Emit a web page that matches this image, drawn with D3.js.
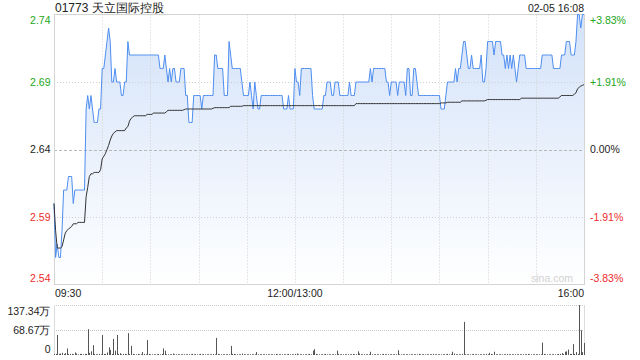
<!DOCTYPE html>
<html><head><meta charset="utf-8">
<script src="https://cdn.jsdelivr.net/npm/d3@7/dist/d3.min.js"></script>
<style>html,body{margin:0;padding:0;background:#fff;}svg{display:block;font-family:"Liberation Sans",Arial,sans-serif;}</style>
</head><body>
<script>
const title = "01773 天立国际控股";
const dateLabel = "02-05 16:08";
const priceTicks = [2.74, 2.69, 2.64, 2.59, 2.54];
const pctLabels = ["+3.83%", "+1.91%", "0.00%", "-1.91%", "-3.83%"];
const timeTickIdx = [0, 150, 330];
const timeLabels = ["09:30", "12:00/13:00", "16:00"];
const volTicks = [137.34, 68.67, 0];
const volLabels = ["137.34万", "68.67万", "0"];

// per-minute price (09:30..12:00, 13:00..16:00), 331 points
const price = [
2.60,2.56,2.57,2.56,2.56,2.58,2.61,2.61,2.61,2.62,
2.62,2.62,2.60,2.61,2.61,2.61,2.61,2.61,2.61,2.61,
2.67,2.68,2.67,2.68,2.67,2.66,2.66,2.66,2.67,2.67,
2.70,2.70,2.71,2.72,2.73,2.72,2.69,2.69,2.70,2.69,
2.69,2.69,2.68,2.68,2.69,2.69,2.72,2.71,2.71,2.71,
2.71,2.71,2.71,2.71,2.71,2.71,2.71,2.71,2.71,2.71,
2.71,2.71,2.71,2.71,2.71,2.71,2.70,2.70,2.70,2.71,
2.70,2.69,2.70,2.69,2.70,2.70,2.69,2.69,2.69,2.70,
2.70,2.70,2.68,2.68,2.66,2.66,2.66,2.68,2.68,2.68,
2.68,2.68,2.67,2.68,2.68,2.68,2.68,2.68,2.68,2.68,
2.71,2.71,2.70,2.70,2.70,2.70,2.68,2.68,2.68,2.72,
2.71,2.70,2.70,2.70,2.70,2.70,2.70,2.69,2.68,2.68,
2.68,2.68,2.69,2.68,2.67,2.69,2.68,2.67,2.67,2.68,
2.68,2.68,2.68,2.68,2.68,2.68,2.68,2.68,2.68,2.68,
2.68,2.68,2.68,2.67,2.67,2.67,2.68,2.67,2.67,2.67,
2.70,2.69,2.69,2.68,2.70,2.70,2.70,2.70,2.70,2.70,
2.70,2.68,2.67,2.67,2.67,2.67,2.67,2.67,2.68,2.68,
2.69,2.69,2.69,2.68,2.68,2.69,2.69,2.69,2.68,2.68,
2.68,2.68,2.68,2.68,2.69,2.68,2.68,2.68,2.69,2.69,
2.69,2.69,2.69,2.69,2.69,2.69,2.69,2.70,2.69,2.70,
2.70,2.70,2.70,2.70,2.70,2.70,2.70,2.69,2.69,2.68,
2.69,2.69,2.69,2.69,2.68,2.69,2.69,2.69,2.69,2.68,
2.70,2.70,2.68,2.68,2.70,2.70,2.69,2.68,2.68,2.68,
2.68,2.68,2.68,2.68,2.68,2.68,2.68,2.68,2.68,2.68,
2.68,2.67,2.67,2.67,2.68,2.69,2.69,2.69,2.69,2.69,
2.70,2.69,2.70,2.70,2.71,2.72,2.72,2.71,2.70,2.70,
2.71,2.70,2.70,2.70,2.70,2.70,2.71,2.69,2.69,2.70,
2.72,2.72,2.72,2.72,2.71,2.72,2.72,2.72,2.72,2.71,
2.71,2.70,2.71,2.70,2.71,2.70,2.71,2.70,2.69,2.70,
2.71,2.71,2.71,2.71,2.70,2.70,2.70,2.70,2.70,2.70,
2.70,2.70,2.70,2.70,2.71,2.71,2.71,2.71,2.71,2.71,
2.71,2.70,2.70,2.70,2.70,2.70,2.71,2.71,2.71,2.72,
2.72,2.72,2.71,2.71,2.71,2.72,2.74,2.74,2.73,2.74,
2.74];

// per-minute average price
const avgPrice = [
2.600,2.580,2.567,2.567,2.567,2.568,2.573,2.578,2.580,2.581,
2.582,2.583,2.585,2.585,2.585,2.586,2.586,2.586,2.586,2.586,
2.605,2.612,2.620,2.622,2.622,2.623,2.623,2.623,2.623,2.625,
2.633,2.635,2.637,2.640,2.643,2.647,2.650,2.652,2.653,2.654,
2.654,2.654,2.654,2.654,2.654,2.656,2.657,2.661,2.663,2.664,
2.665,2.665,2.665,2.665,2.665,2.665,2.665,2.665,2.666,2.666,
2.666,2.666,2.667,2.667,2.667,2.667,2.667,2.667,2.667,2.667,
2.668,2.669,2.669,2.669,2.669,2.669,2.669,2.669,2.669,2.669,
2.669,2.6695,2.670,2.670,2.670,2.670,2.670,2.670,2.670,2.670,
2.670,2.670,2.670,2.670,2.670,2.670,2.670,2.670,2.670,2.6705,
2.671,2.671,2.671,2.671,2.671,2.671,2.671,2.671,2.671,2.671,
2.672,2.672,2.672,2.672,2.672,2.672,2.672,2.672,2.6725,2.6725,
2.6725,2.6725,2.6725,2.6725,2.6725,2.6725,2.6725,2.6725,2.6725,2.6725,
2.6725,2.6725,2.6725,2.6725,2.6725,2.6725,2.6725,2.6725,2.6725,2.6725,
2.6725,2.6725,2.6725,2.6725,2.6725,2.6725,2.6725,2.6725,2.6725,2.6725,
2.6725,2.6725,2.6725,2.6725,2.6725,2.6725,2.6725,2.6725,2.6725,2.6725,
2.6725,2.6725,2.6725,2.6725,2.6725,2.6725,2.6725,2.6725,2.6725,2.6725,
2.6725,2.6725,2.6725,2.6725,2.6725,2.6725,2.6725,2.6725,2.6725,2.6725,
2.6725,2.6725,2.6725,2.6725,2.6725,2.6725,2.6725,2.6725,2.674,2.674,
2.674,2.674,2.674,2.674,2.674,2.674,2.674,2.674,2.674,2.674,
2.674,2.674,2.674,2.674,2.674,2.674,2.674,2.674,2.674,2.674,
2.674,2.674,2.674,2.674,2.674,2.674,2.674,2.674,2.674,2.674,
2.674,2.674,2.674,2.674,2.674,2.674,2.674,2.674,2.674,2.674,
2.674,2.674,2.674,2.674,2.674,2.674,2.674,2.674,2.674,2.674,
2.674,2.6745,2.6745,2.6745,2.6745,2.675,2.675,2.675,2.675,2.675,
2.675,2.675,2.675,2.675,2.676,2.676,2.676,2.676,2.676,2.676,
2.676,2.676,2.676,2.676,2.676,2.676,2.676,2.676,2.676,2.6765,
2.677,2.677,2.677,2.677,2.677,2.677,2.677,2.677,2.677,2.677,
2.677,2.677,2.677,2.677,2.677,2.677,2.677,2.677,2.677,2.677,
2.677,2.678,2.678,2.678,2.678,2.678,2.678,2.678,2.678,2.678,
2.678,2.678,2.678,2.678,2.678,2.678,2.678,2.678,2.678,2.678,
2.678,2.678,2.678,2.678,2.678,2.679,2.680,2.680,2.680,2.680,
2.680,2.680,2.680,2.680,2.681,2.682,2.685,2.686,2.687,2.6875,
2.688];

// per-minute volume (万股)
const volume = [
3,3,55,3,4,6,3,5,18,3,
3,3,2,7,4,2,3,3,2,3,
3,71,6,10,27,3,2,2,3,2,
55,3,3,7,21,14,3,44,12,55,
3,5,2,3,3,2,60,3,25,3,
2,2,3,2,2,8,3,2,41,3,
2,2,2,2,2,3,2,3,18,12,
2,2,2,2,4,2,2,2,2,2,
2,2,2,2,2,2,3,2,2,2,
2,3,2,2,2,2,2,2,2,3,
2,47,3,2,2,2,2,2,2,2,
25,3,3,2,2,2,2,4,2,2,
2,2,2,2,2,2,8,2,2,2,
2,2,2,2,2,2,2,2,3,2,
2,2,2,2,2,2,3,2,2,2,
3,4,2,2,2,2,2,2,2,3,
2,12,16,3,2,2,2,2,2,3,
2,2,2,2,2,2,12,3,2,2,
2,2,2,2,2,2,3,2,2,10,
4,2,2,2,2,2,2,9,2,2,
2,2,2,2,2,3,2,2,2,2,
2,2,2,2,13,2,2,2,2,2,
2,2,2,2,2,2,2,3,2,2,
2,2,2,2,2,2,3,2,2,2,
2,2,2,2,2,3,2,2,9,4,
2,2,2,2,3,91,2,2,2,2,
2,3,2,2,2,2,2,2,2,3,
2,6,3,2,9,2,2,2,2,2,
2,2,3,2,2,2,2,2,2,2,
2,2,2,2,2,3,2,2,2,2,
2,2,2,2,34,3,2,2,2,2,
2,2,2,2,3,3,5,3,9,10,
15,3,3,30,3,8,3,137,68,8,
33];

const W = 640, H = 360;
const L = 54, R = 584, T = 14.5, B = 284.5;
const VT = 305, VB = 355;

const svg = d3.select("body").append("svg").attr("width", W).attr("height", H);
svg.append("rect").attr("width", W).attr("height", H).attr("fill", "#fff");

const x = d3.scaleLinear().domain([0, 330]).range([L, R]);
const y = d3.scaleLinear().domain([2.54, 2.74]).range([B, T]);
const yv = d3.scaleLinear().domain([0, 137.34]).range([VB, VT]);

const defs = svg.append("defs");
const grad = defs.append("linearGradient").attr("id", "fillg")
  .attr("gradientUnits", "userSpaceOnUse").attr("x1", 0).attr("y1", T).attr("x2", 0).attr("y2", B);
grad.append("stop").attr("offset", "0%").attr("stop-color", "#d3e2f9");
grad.append("stop").attr("offset", "100%").attr("stop-color", "#ffffff");

// area
svg.append("path").datum(price)
  .attr("d", d3.area().x((d, i) => x(i)).y0(B).y1(d => y(d)))
  .attr("fill", "url(#fillg)");

// grid: horizontal
priceTicks.forEach((p, i) => {
  if (i === 0 || i === priceTicks.length - 1) return;
  svg.append("line").attr("x1", L).attr("x2", R)
    .attr("y1", Math.round(y(p)) + 0.5).attr("y2", Math.round(y(p)) + 0.5)
    .attr("stroke", i === 2 ? "#b8b8b8" : "#cfcfcf")
    .attr("stroke-dasharray", i === 2 ? "3,2" : "1,2");
});
// grid: vertical every 30 min
d3.range(30, 330, 30).forEach(m => {
  const xx = Math.round(x(m)) + 0.5;
  svg.append("line").attr("x1", xx).attr("x2", xx).attr("y1", T).attr("y2", B)
    .attr("stroke", "#d0d0d0").attr("stroke-dasharray", "1,2");
});

// frame
svg.append("rect").attr("x", L + 0.5).attr("y", T).attr("width", R - L).attr("height", B - T)
  .attr("fill", "none").attr("stroke", "#d4d4d4");

// watermark
svg.append("text").attr("x", 573).attr("y", 281.5).attr("text-anchor", "end")
  .attr("font-size", 10.5).attr("fill", "#d2d2d2").text("sina.com");

// price line
svg.append("path").datum(price)
  .attr("d", d3.line().x((d, i) => x(i)).y(d => y(d)))
  .attr("fill", "none").attr("stroke", "#4e8ef0").attr("stroke-width", 1);

// average line
svg.append("path").datum(avgPrice)
  .attr("d", d3.line().x((d, i) => x(i)).y(d => y(d)))
  .attr("fill", "none").attr("stroke", "#333").attr("stroke-width", 1);

// left / right labels
const colorFor = i => i < 2 ? "#22a722" : (i === 2 ? "#222" : "#ee2b2b");
const dyFor = (i, n) => i === 0 ? 9.5 : (i === n - 1 ? -2.5 : 3.8);
priceTicks.forEach((p, i) => {
  svg.append("text").attr("x", 50.5).attr("y", y(p) + dyFor(i, priceTicks.length))
    .attr("text-anchor", "end").attr("font-size", 10.5).attr("fill", colorFor(i))
    .text(p.toFixed(2));
  svg.append("text").attr("x", 590).attr("y", y(p) + dyFor(i, priceTicks.length))
    .attr("text-anchor", "start").attr("font-size", 10.5).attr("fill", colorFor(i))
    .text(pctLabels[i]);
});

// time labels
timeTickIdx.forEach((m, i) => {
  const anchor = i === 0 ? "start" : (i === timeTickIdx.length - 1 ? "end" : "middle");
  svg.append("text").attr("x", i === 0 ? x(m) + 1 : x(m)).attr("y", 296.5)
    .attr("text-anchor", anchor).attr("font-size", 10.5).attr("fill", "#222")
    .text(timeLabels[i]);
});

// title & date
svg.append("text").attr("x", 55).attr("y", 11.5).attr("font-size", 12).attr("fill", "#222").text(title);
svg.append("text").attr("x", 584).attr("y", 11.5).attr("text-anchor", "end")
  .attr("font-size", 10.5).attr("fill", "#222").text(dateLabel);

// volume panel
volTicks.forEach((v, i) => {
  if (v > 0) {
    svg.append("line").attr("x1", L).attr("x2", R)
      .attr("y1", Math.round(yv(v)) + 0.5).attr("y2", Math.round(yv(v)) + 0.5)
      .attr("stroke", "#c8c8c8").attr("stroke-dasharray", "1,1");
  }
  svg.append("text").attr("x", 50.5).attr("y", yv(v) + dyFor(i, volTicks.length))
    .attr("text-anchor", "end").attr("font-size", 10.5).attr("fill", "#222")
    .text(volLabels[i]);
});
svg.append("line").attr("x1", L + 0.5).attr("x2", L + 0.5).attr("y1", VT).attr("y2", VB)
  .attr("stroke", "#dcdcdc");
svg.append("line").attr("x1", R + 0.5).attr("x2", R + 0.5).attr("y1", VT).attr("y2", VB)
  .attr("stroke", "#dcdcdc");

svg.append("g").selectAll("rect").data(volume).join("rect")
  .attr("x", (d, i) => Math.round(x(i)))
  .attr("width", 1)
  .attr("y", d => yv(d))
  .attr("height", d => VB - yv(d))
  .attr("fill", "#555");
</script>
</body></html>
